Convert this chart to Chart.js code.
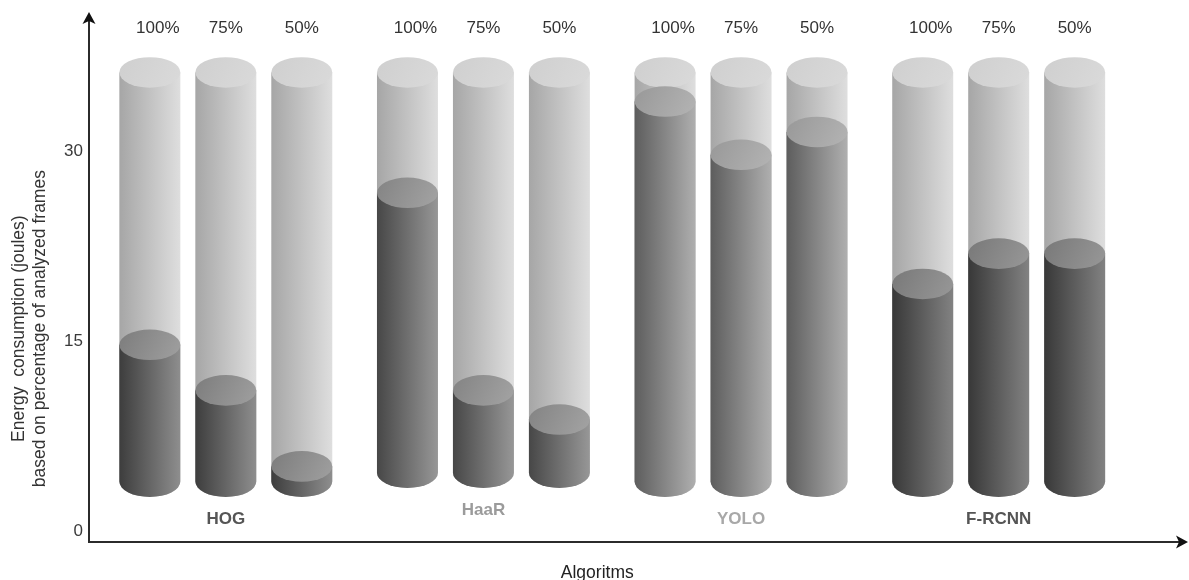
<!DOCTYPE html>
<html>
<head>
<meta charset="utf-8">
<script src="https://cdn.jsdelivr.net/npm/chart.js@4/dist/chart.umd.min.js"></script>
<style>
  html, body { margin: 0; padding: 0; background: #ffffff; }
  #wrap { width: 1189px; height: 580px; position: relative; }
</style>
</head>
<body>
<div id="wrap"><canvas id="chart" width="1189" height="580"></canvas></div>
<script>
// Energy consumption (joules) per detector, for 100 %, 75 % and 50 % of analysed frames
const algorithms = ['HOG', 'HaaR', 'YOLO', 'F-RCNN'];
const frameShares = ['100%', '75%', '50%'];
const energyAt100 = [14.7, 26.7, 33.9, 19.5];
const energyAt75 = [11.1, 11.1, 29.7, 21.9];
const energyAt50 = [5.1, 8.8, 31.5, 21.9];
// each column is a cylinder standing on a floor value and capped at a ceiling value
const cylinderFloor = [3.9, 4.6, 3.9, 3.9];
const cylinderCeiling = [36.2, 36.2, 36.2, 36.2];
const yTicks = [0, 15, 30];

const seriesValues = [energyAt100, energyAt75, energyAt50];

// ---- styling ----
const FONT = '"Liberation Sans", Arial, Helvetica, sans-serif';
const CAP_RY = 15.3;
const shareLabelShift = [8, 0, 0];
const algoLabelColors = ['#555555', '#9b9b9b', '#a8a8a8', '#555555'];
const shellStyle = { body: ['#a6a6a6', '#dedede'], cap: ['#cfcfcf', '#dadada'] };
const fillStyles = [
  { body: ['#3d3d3d', '#8e8e8e'], cap: ['#7c7c7c', '#a0a0a0'] },
  { body: ['#474747', '#979797'], cap: ['#838383', '#a4a4a4'] },
  { body: ['#5d5d5d', '#afafaf'], cap: ['#989898', '#b4b4b4'] },
  { body: ['#383838', '#828282'], cap: ['#787878', '#989898'] }
];

function drawCylinder(ctx, cx, rx, ry, yTop, yBottom, style) {
  const left = cx - rx, right = cx + rx;
  const g = ctx.createLinearGradient(left, 0, right, 0);
  g.addColorStop(0, style.body[0]);
  g.addColorStop(1, style.body[1]);
  ctx.beginPath();
  ctx.moveTo(left, yTop);
  ctx.lineTo(left, yBottom);
  ctx.ellipse(cx, yBottom, rx, ry, 0, Math.PI, 0, true);
  ctx.lineTo(right, yTop);
  ctx.closePath();
  ctx.fillStyle = g;
  ctx.fill();

  const gc = ctx.createLinearGradient(left, yTop - ry, right, yTop + ry);
  gc.addColorStop(0, style.cap[0]);
  gc.addColorStop(1, style.cap[1]);
  ctx.beginPath();
  ctx.ellipse(cx, yTop, rx, ry, 0, 0, Math.PI * 2);
  ctx.fillStyle = gc;
  ctx.fill();
}

function arrowHead(ctx, tipX, tipY, dirX, dirY) {
  const len = 12, half = 6.5, notch = 3;
  const px = -dirY, py = dirX;
  ctx.beginPath();
  ctx.moveTo(tipX, tipY);
  ctx.lineTo(tipX - dirX * len + px * half, tipY - dirY * len + py * half);
  ctx.lineTo(tipX - dirX * (len - notch), tipY - dirY * (len - notch));
  ctx.lineTo(tipX - dirX * len - px * half, tipY - dirY * len - py * half);
  ctx.closePath();
  ctx.fill();
}

const cylinderPlugin = {
  id: 'cylinders',
  afterDatasetsDraw(chart) {
    const ctx = chart.ctx;
    const ys = chart.scales.y, xs = chart.scales.x;
    const ca = chart.chartArea;
    ctx.save();
    chart.data.datasets.forEach((ds, k) => {
      const meta = chart.getDatasetMeta(k);
      meta.data.forEach((el, i) => {
        const rx = el.width / 2;
        const yCeil = ys.getPixelForValue(cylinderCeiling[i]);
        drawCylinder(ctx, el.x, rx, CAP_RY, yCeil, el.base, shellStyle);
        drawCylinder(ctx, el.x, rx, CAP_RY, el.y, el.base, fillStyles[i]);
      });
      // share labels above each column
      ctx.font = '17px ' + FONT;
      ctx.fillStyle = '#333333';
      ctx.textAlign = 'center';
      ctx.textBaseline = 'alphabetic';
      meta.data.forEach((el) => {
        ctx.fillText(ds.label, el.x + shareLabelShift[k], ca.top + 9);
      });
    });

    // algorithm names under each group
    ctx.font = 'bold 17px ' + FONT;
    algorithms.forEach((name, i) => {
      ctx.fillStyle = algoLabelColors[i];
      ctx.fillText(name, xs.getPixelForValue(i), ys.getPixelForValue(cylinderFloor[i]) + 42);
    });

    // axes with arrow heads
    const axisX = ca.left - 8;
    const axisY = ca.bottom + 11;
    ctx.strokeStyle = '#2b2b2b';
    ctx.fillStyle = '#111111';
    ctx.lineWidth = 2;
    ctx.beginPath();
    ctx.moveTo(axisX, axisY);
    ctx.lineTo(axisX, 20);
    ctx.moveTo(axisX - 1, axisY);
    ctx.lineTo(chart.width - 10, axisY);
    ctx.stroke();
    arrowHead(ctx, axisX, 12, 0, -1);
    arrowHead(ctx, chart.width - 1, axisY, 1, 0);

    // axis titles
    ctx.fillStyle = '#222222';
    ctx.font = '17.5px ' + FONT;
    ctx.textAlign = 'center';
    ctx.fillText('Algoritms', (ca.left + ca.right) / 2 - 15, ca.bottom + 47);

    const midY = (ca.top + ca.bottom) / 2 + 51;
    ctx.fillStyle = '#333333';
    ctx.translate(0, midY);
    ctx.rotate(-Math.PI / 2);
    ctx.fillText('Energy  consumption (joules)', 0, 24);
    ctx.fillText('based on percentage of analyzed frames', 0, 45);
    ctx.restore();
  }
};

new Chart(document.getElementById('chart'), {
  type: 'bar',
  data: {
    labels: algorithms,
    datasets: frameShares.map((share, k) => ({
      label: share,
      data: algorithms.map((_, i) => [cylinderFloor[i], seriesValues[k][i]]),
      backgroundColor: 'rgba(0,0,0,0)',
      borderWidth: 0,
      categoryPercentage: 0.8847,
      barPercentage: 0.8026
    }))
  },
  options: {
    responsive: false,
    devicePixelRatio: 1,
    animation: false,
    layout: { padding: { left: 0, right: 61.5, top: 24.3, bottom: 49 } },
    plugins: { legend: { display: false }, tooltip: { enabled: false } },
    scales: {
      x: { type: 'category', display: false },
      y: {
        min: 0,
        max: 40,
        afterFit(scale) { scale.width = 97; },
        afterBuildTicks(scale) { scale.ticks = yTicks.map(v => ({ value: v })); },
        grid: { display: false, drawTicks: false },
        border: { display: false },
        ticks: {
          padding: 14,
          color: '#3a3a3a',
          font: { family: FONT, size: 17 }
        }
      }
    }
  },
  plugins: [cylinderPlugin]
});
</script>
</body>
</html>
